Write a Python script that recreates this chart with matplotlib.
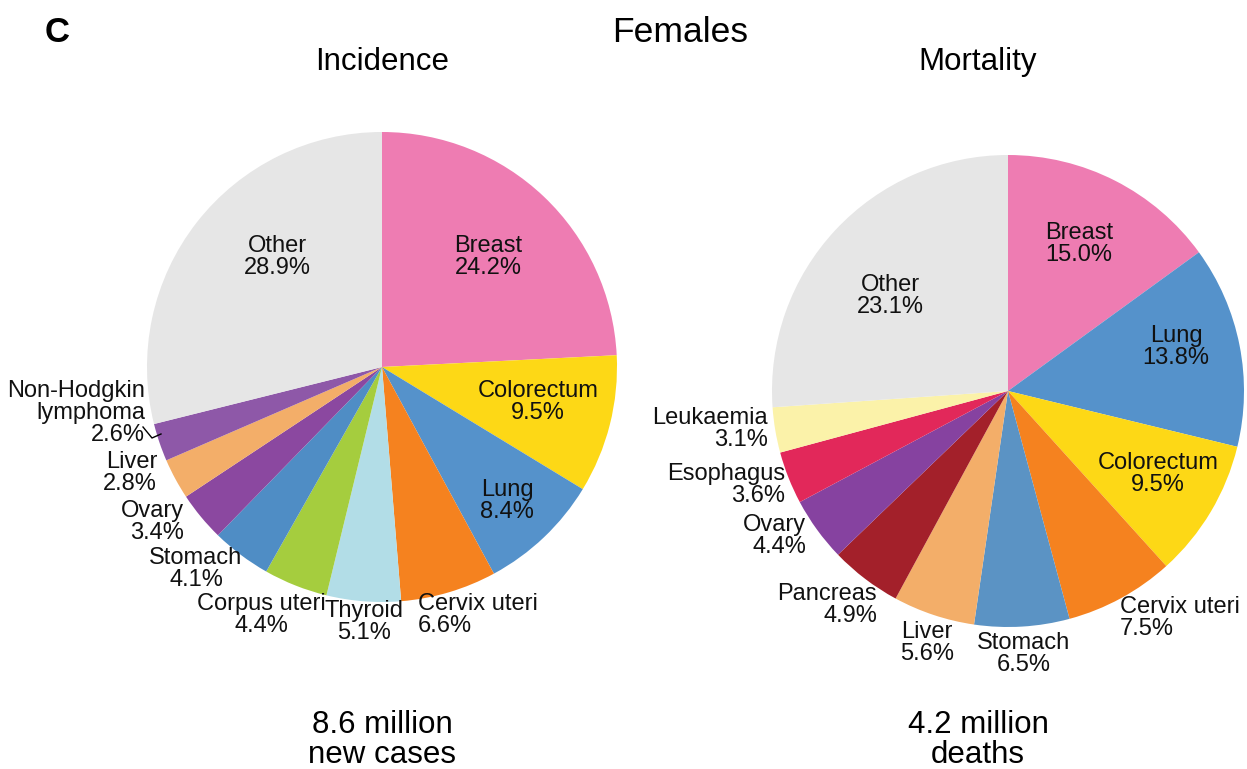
import matplotlib
matplotlib.use('Agg')
import matplotlib.pyplot as plt

plt.rcParams['font.family'] = ['Liberation Sans', 'DejaVu Sans']

W, H = 1247, 769

## DATA
inc_labels = ['Breast', 'Colorectum', 'Lung', 'Cervix uteri', 'Thyroid', 'Corpus uteri',
              'Stomach', 'Ovary', 'Liver', 'Non-Hodgkin\nlymphoma', 'Other']
inc_values = [24.2, 9.5, 8.4, 6.6, 5.1, 4.4, 4.1, 3.4, 2.8, 2.6, 28.9]
inc_colors = ['#EE7CB2', '#FDD816', '#5592CB', '#F5821F', '#B2DDE7', '#A5CD3E',
              '#4F8DC5', '#8B48A0', '#F3AE69', '#8E58A8', '#E6E6E6']

mort_labels = ['Breast', 'Lung', 'Colorectum', 'Cervix uteri', 'Stomach', 'Liver',
               'Pancreas', 'Ovary', 'Esophagus', 'Leukaemia', 'Other']
mort_values = [15.0, 13.8, 9.5, 7.5, 6.5, 5.6, 4.9, 4.4, 3.6, 3.1, 23.1]
mort_colors = ['#EE7CB2', '#5592CB', '#FDD816', '#F5821F', '#5B93C4', '#F3AE69',
               '#A3202A', '#8642A0', '#E2285A', '#FBF2A9', '#E6E6E6']

# label anchor (pixel x, pixel y of the block centre, alignment)
inc_pos = [(488, 257, 'center'), (538, 402, 'center'), (507, 501, 'center'),
           (418, 615, 'left'), (364, 622, 'center'), (261, 615, 'center'),
           (196, 569, 'center'), (184, 522, 'right'), (157, 473, 'right'),
           (145, 413, 'right'), (277, 257, 'center')]
mort_pos = [(1079, 244, 'center'), (1176, 347, 'center'), (1158, 474, 'center'),
            (1120, 618, 'left'), (1024, 654, 'center'), (927, 643, 'center'),
            (877, 605, 'right'), (806, 536, 'right'), (785, 485, 'right'),
            (768, 429, 'right'), (890, 296, 'center')]


def draw_pie(ax, values, labels, colors, positions, center, radius):
    # the drawn wedge for "Other" takes up whatever the listed sites leave
    sizes = values[:-1] + [100 - sum(values[:-1])]
    ax.pie(sizes, colors=colors, startangle=90, counterclock=False,
           center=center, radius=radius, wedgeprops=dict(linewidth=0))
    for lab, val, (px, py, ha) in zip(labels, values, positions):
        ax.text(px, H - py, lab + '\n' + '{:.1f}%'.format(val), ha=ha, va='center',
                fontsize=17, linespacing=1.0, multialignment=ha, color='#111111')


fig = plt.figure(figsize=(W / 100, H / 100), dpi=100)
ax = fig.add_axes([0, 0, 1, 1])

draw_pie(ax, inc_values, inc_labels, inc_colors, inc_pos, (382, H - 367), 235)
draw_pie(ax, mort_values, mort_labels, mort_colors, mort_pos, (1008, H - 391), 236)

ax.set_xlim(0, W)
ax.set_ylim(0, H)
ax.set_aspect('auto')
ax.axis('off')

# leader line for Non-Hodgkin lymphoma
ax.plot([143, 152, 161], [H - 427, H - 438, H - 434], color='black', lw=1)

ax.text(57, H - 32, 'C', fontsize=25, fontweight='bold', ha='center', va='center')
ax.text(680, H - 32, 'Females', fontsize=25.5, ha='center', va='center')
ax.text(382, H - 62, 'Incidence', fontsize=22.5, ha='center', va='center')
ax.text(978, H - 62, 'Mortality', fontsize=22.5, ha='center', va='center')
ax.text(382, H - 740, '8.6 million\nnew cases', fontsize=22.5, ha='center', va='center',
        linespacing=0.98)
ax.text(978, H - 740, '4.2 million\ndeaths', fontsize=22.5, ha='center', va='center',
        linespacing=0.98)

fig.savefig('out.png', dpi=100)
